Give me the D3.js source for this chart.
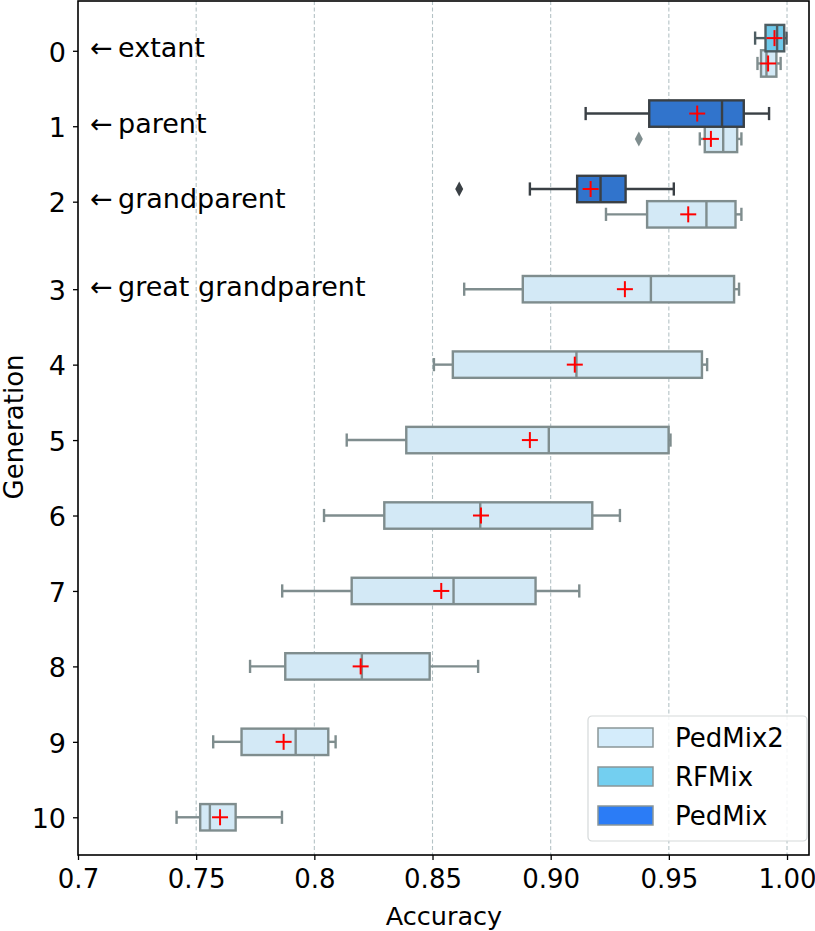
<!DOCTYPE html>
<html>
<head>
<meta charset="utf-8">
<script src="https://cdn.jsdelivr.net/npm/d3@7"></script>
<style>
  body { margin: 0; background: #fff; }
  text { font-family: "DejaVu Sans", sans-serif; fill: #000; }
</style>
</head>
<body>
<div id="chart"></div>
<script>
// generations on the y axis, and the labels drawn next to the first four
const generations = [0, 1, 2, 3, 4, 5, 6, 7, 8, 9, 10];
const relations = ['extant', 'parent', 'grandparent', 'great grandparent'];

// [low whisker, q1, median, q3, high whisker, mean], one row per generation
const pedmix2 = [
  [0.9875, 0.9890, 0.9913, 0.9955, 0.9973, 0.9920],
  [0.9631, 0.9652, 0.9730, 0.9789, 0.9807, 0.9678],
  [0.9234, 0.9408, 0.9659, 0.9782, 0.9807, 0.9582],
  [0.8634, 0.8882, 0.9424, 0.9776, 0.9797, 0.9314],
  [0.8506, 0.8586, 0.9109, 0.9640, 0.9662, 0.9102],
  [0.8137, 0.8389, 0.8992, 0.9499, 0.9507, 0.8912],
  [0.8041, 0.8296, 0.8702, 0.9176, 0.9293, 0.8705],
  [0.7864, 0.8158, 0.8589, 0.8936, 0.9121, 0.8537],
  [0.7728, 0.7877, 0.8201, 0.8488, 0.8693, 0.8196],
  [0.7572, 0.7692, 0.7921, 0.8059, 0.8090, 0.7870],
  [0.7417, 0.7517, 0.7558, 0.7667, 0.7863, 0.7601]
];
const pedmix2Outliers = [[1, 0.9373]];

const rfmixGens = [0];
const rfmix = [[0.9865, 0.9909, 0.9958, 0.9988, 0.9998, 0.9947]];

const pedmixGens = [1, 2];
const pedmix = [
  [0.9148, 0.9417, 0.9725, 0.9817, 0.9924, 0.9620],
  [0.8912, 0.9112, 0.9211, 0.9317, 0.9521, 0.9169]
];
const pedmixOutliers = [[2, 0.8613]];

const xTicks = [0.70, 0.75, 0.80, 0.85, 0.90, 0.95, 1.00];
const xTickLabels = ['0.7', '0.75', '0.8', '0.85', '0.90', '0.95', '1.00'];

const methods = ['PedMix2', 'RFMix', 'PedMix'];
const fills = { PedMix2: '#d3e9f6', RFMix: '#6fc9ea', PedMix: '#3174cc' };
const edges = { PedMix2: '#7f8d8e', RFMix: '#4e5d62', PedMix: '#3a4045' };
const legendFills = { PedMix2: '#d4ecfb', RFMix: '#73cff0', PedMix: '#2b7cf6' };

const W = 815, H = 931;
const plotL = 78, plotR = 809, plotT = 1, plotB = 855;

const svg = d3.select('#chart').append('svg')
  .attr('width', W).attr('height', H);

const x = d3.scaleLinear().domain([0.7, 1.0093]).range([plotL, plotR]);
const y = d3.scaleLinear().domain([-0.82, 10.5]).range([plotT, plotB]);

// the first three generations sit a little higher, with two boxes each
const genY = g => g < 3 ? g - 0.16 : g;
const boxH = 0.35;
const dodge = 0.168;

// grid
svg.append('g')
  .selectAll('line')
  .data(xTicks.slice(1))
  .enter()
  .append('line')
  .attr('x1', d => x(d)).attr('x2', d => x(d))
  .attr('y1', plotT).attr('y2', plotB)
  .attr('stroke', '#b4c2c5')
  .attr('stroke-width', 1.1)
  .attr('stroke-dasharray', '4,2.5');

function drawBox(stats, g, offset, method, h) {
  const [lo, q1, med, q3, hi, mean] = stats;
  const cy = y(genY(g) + offset);
  const half = (y(h) - y(0)) / 2;
  const grp = svg.append('g')
    .attr('stroke', edges[method])
    .attr('stroke-width', 2.4)
    .attr('fill', 'none');

  grp.append('line')
    .attr('x1', x(lo)).attr('x2', x(q1)).attr('y1', cy).attr('y2', cy);
  grp.append('line')
    .attr('x1', x(q3)).attr('x2', x(hi)).attr('y1', cy).attr('y2', cy);
  [lo, hi].forEach(v => grp.append('line')
    .attr('x1', x(v)).attr('x2', x(v))
    .attr('y1', cy - half / 2).attr('y2', cy + half / 2));

  grp.append('rect')
    .attr('x', x(q1)).attr('y', cy - half)
    .attr('width', x(q3) - x(q1)).attr('height', 2 * half)
    .attr('fill', fills[method]);
  grp.append('line')
    .attr('x1', x(med)).attr('x2', x(med))
    .attr('y1', cy - half).attr('y2', cy + half);

  // mean marker
  const m = svg.append('g').attr('stroke', '#ff0000').attr('stroke-width', 2);
  m.append('line').attr('x1', x(mean) - 8).attr('x2', x(mean) + 8)
    .attr('y1', cy).attr('y2', cy);
  m.append('line').attr('x1', x(mean)).attr('x2', x(mean))
    .attr('y1', cy - 8).attr('y2', cy + 8);
}

function drawOutlier(g, v, offset, method) {
  const cy = y(genY(g) + offset);
  svg.append('path')
    .attr('d', `M${x(v)},${cy - 7.5}L${x(v) + 4},${cy}L${x(v)},${cy + 7.5}L${x(v) - 4},${cy}Z`)
    .attr('fill', edges[method]);
}

generations.forEach((g, i) => {
  const off = g < 3 ? dodge : 0;
  drawBox(pedmix2[i], g, off, 'PedMix2', boxH);
});
rfmixGens.forEach((g, i) => drawBox(rfmix[i], g, -dodge, 'RFMix', boxH));
pedmixGens.forEach((g, i) => drawBox(pedmix[i], g, -dodge, 'PedMix', boxH));
pedmix2Outliers.forEach(d => drawOutlier(d[0], d[1], dodge, 'PedMix2'));
pedmixOutliers.forEach(d => drawOutlier(d[0], d[1], -dodge, 'PedMix'));

// frame
svg.append('rect')
  .attr('x', plotL).attr('y', plotT)
  .attr('width', plotR - plotL).attr('height', plotB - plotT)
  .attr('fill', 'none').attr('stroke', '#000').attr('stroke-width', 1.6);

// axes
const xAxis = d3.axisBottom(x)
  .tickValues(xTicks)
  .tickFormat((d, i) => xTickLabels[i])
  .tickSize(5).tickPadding(10);
svg.append('g')
  .attr('transform', `translate(0,${plotB})`)
  .call(xAxis)
  .call(g => g.select('.domain').remove())
  .call(g => g.selectAll('line').attr('stroke-width', 1.3))
  .call(g => g.selectAll('text')
    .attr('font-family', 'DejaVu Sans').attr('font-size', 26).attr('fill', '#000'));

const yAxis = d3.axisLeft(y)
  .tickValues(generations.map(genY))
  .tickFormat((d, i) => generations[i])
  .tickSize(5).tickPadding(7);
svg.append('g')
  .attr('transform', `translate(${plotL},0)`)
  .call(yAxis)
  .call(g => g.select('.domain').remove())
  .call(g => g.selectAll('line').attr('stroke-width', 1.3))
  .call(g => g.selectAll('text')
    .attr('font-family', 'DejaVu Sans').attr('font-size', 27).attr('fill', '#000')
    .attr('dy', '0.38em'));

// relation annotations
svg.append('g')
  .selectAll('text')
  .data(relations)
  .enter()
  .append('text')
  .attr('x', 90)
  .attr('y', (d, i) => y(genY(i)))
  .attr('dy', '0.24em')
  .attr('font-size', 27)
  .text(d => '\u2190\u2009' + d);

// axis titles
svg.append('text')
  .attr('x', (plotL + plotR) / 2 + 0.5).attr('y', 925)
  .attr('text-anchor', 'middle').attr('font-size', 25.5)
  .text('Accuracy');
svg.append('text')
  .attr('transform', `translate(23,${(plotT + plotB) / 2 - 1}) rotate(-90)`)
  .attr('text-anchor', 'middle').attr('font-size', 26)
  .text('Generation');

// legend
const lg = svg.append('g').attr('transform', 'translate(588,716)');
lg.append('rect')
  .attr('width', 219).attr('height', 125).attr('rx', 4)
  .attr('fill', '#fff').attr('fill-opacity', 0.85)
  .attr('stroke', '#d5d9da').attr('stroke-width', 1.2);
const item = lg.selectAll('.item')
  .data(methods)
  .enter()
  .append('g')
  .attr('class', 'item')
  .attr('transform', (d, i) => `translate(10,${12 + i * 39})`);
item.append('rect')
  .attr('width', 55).attr('height', 19)
  .attr('fill', d => legendFills[d])
  .attr('stroke', '#8a9698').attr('stroke-width', 1.5);
item.append('text')
  .attr('x', 77).attr('y', 10).attr('dy', '0.35em')
  .attr('font-size', 26)
  .text(d => d);
</script>
</body>
</html>
